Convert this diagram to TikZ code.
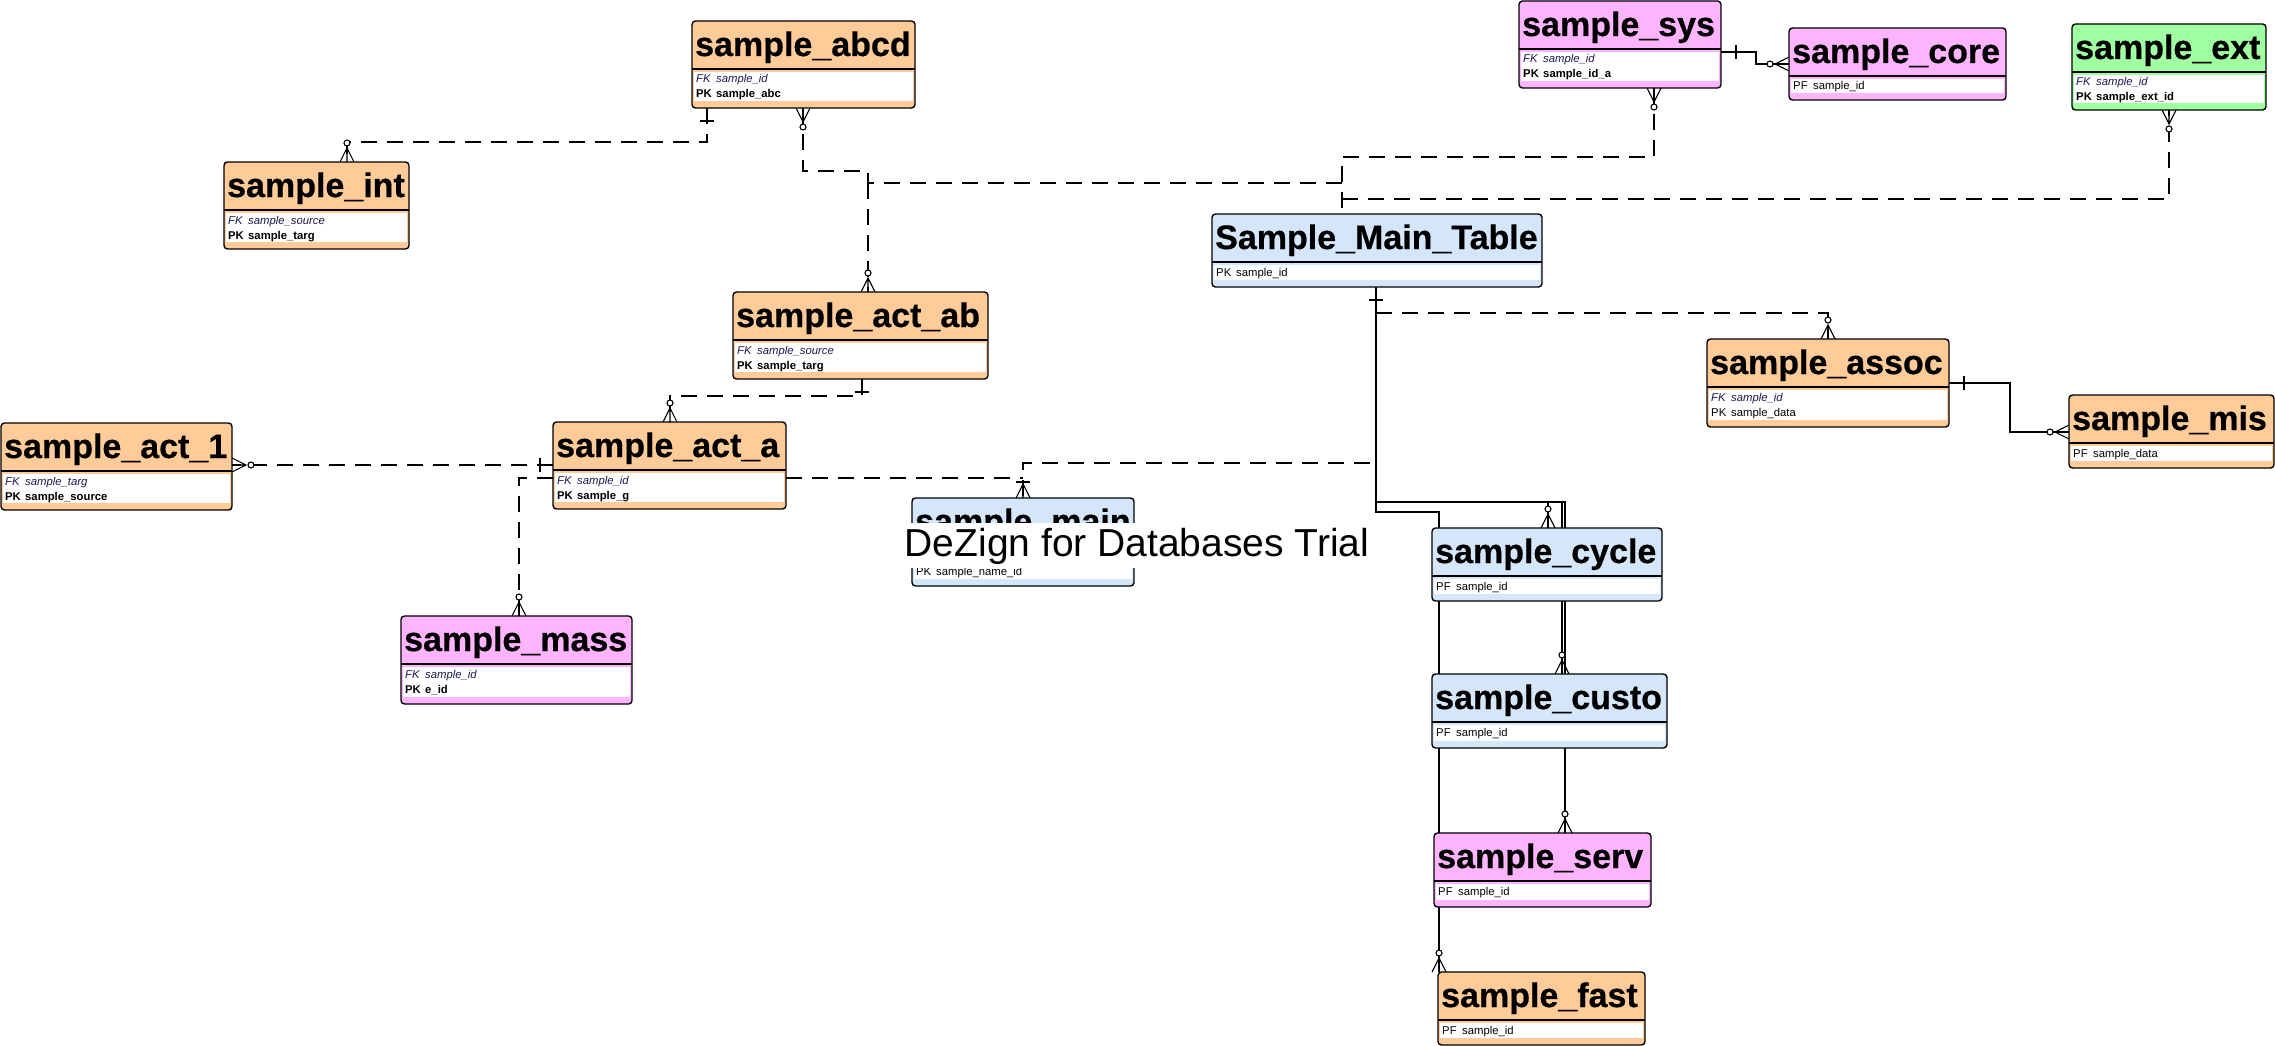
\documentclass[tikz,border=0pt]{standalone}
\usepackage{fontspec}
\setmainfont{Liberation Sans}
\newfontfamily\ttlfont[FakeBold=0.6]{Liberation Sans Bold}
\definecolor{orng}{RGB}{255,204,153}
\definecolor{pnk}{RGB}{255,180,255}
\definecolor{grn}{RGB}{160,255,160}
\definecolor{blu}{RGB}{214,230,250}
\definecolor{fkcol}{RGB}{25,25,80}
\tikzset{
  entbox/.style={draw=black, line width=1.4pt, rounded corners=3.5pt, inner sep=0pt, outer sep=0pt},
  ttl/.style={font=\fontsize{34}{40}\selectfont\ttlfont, inner sep=0pt},
  fkrow/.style={font=\fontsize{11.3}{13}\selectfont\itshape, text=fkcol, inner sep=0pt},
  pkbold/.style={font=\fontsize{11.3}{13}\selectfont\bfseries, inner sep=0pt},
  pkplain/.style={font=\fontsize{11.3}{13}\selectfont, inner sep=0pt},
  conn/.style={line width=1.1pt},
  dconn/.style={line width=1.1pt, dash pattern=on 16pt off 10pt},
  mk/.style={line width=1.1pt},
  zmN/.pic={\draw[mk] (-7,0)--(0,-14)--(7,0) (0,0)--(0,-14); \draw[mk,fill=white] (0,-19) circle (3pt);},
  zmS/.pic={\draw[mk] (-7,0)--(0,14)--(7,0) (0,0)--(0,14); \draw[mk,fill=white] (0,19) circle (3pt);},
  zmE/.pic={\draw[mk] (0,-7)--(14,0)--(0,7) (0,0)--(14,0); \draw[mk,fill=white] (19,0) circle (3pt);},
  zmW/.pic={\draw[mk] (0,-7)--(-14,0)--(0,7) (0,0)--(-14,0); \draw[mk,fill=white] (-19,0) circle (3pt);},
  omN/.pic={\draw[mk] (-7,0)--(0,-14)--(7,0) (0,0)--(0,-14); \draw[mk] (-7,-16)--(7,-16);},
  barS/.pic={\draw[mk] (-7,13)--(7,13);},
  barE/.pic={\draw[mk] (15,-7)--(15,7);},
  barW/.pic={\draw[mk] (-13,-7)--(-13,7);},
}
\newcommand\erent[7]{%
  \node[entbox, fill=#6, minimum width=#4pt, minimum height=#5pt, anchor=north west] (#1) at (#2,#3) {};
  \node[ttl, anchor=base west] (#1-t) at ([shift={(3,35)}]#1.north west) {#7};
  \draw[line width=1.2pt] ([shift={(0,48)}]#1.north west) -- ([shift={(0,48)}]#1.north east);
  \fill[white] ([shift={(2,51)}]#1.north west) rectangle ([shift={(-2,-7)}]#1.south east);
}
\newcommand\errow[5]{%
  \node[#3, anchor=base west] (#1-k#2) at ([shift={(4,#2)}]#1.north west) {#4};
  \node[#3, anchor=base west] (#1-f#2) at ([shift={(24,#2)}]#1.north west) {#5};
}
\begin{document}
\begin{tikzpicture}[x=1pt,y=-1pt]
\fill[white] (0,0) rectangle (2275,1046);
\useasboundingbox (0,0) rectangle (2275,1046);

% entity frames defined first (invisible) so connectors can refer to them
\begin{scope}[every node/.append style={opacity=0}]
\node[entbox, draw=none, minimum width=223pt, minimum height=87pt, anchor=north west] (abcd) at (692,21) {};
\node[entbox, draw=none, minimum width=185pt, minimum height=87pt, anchor=north west] (int) at (224,162) {};
\node[entbox, draw=none, minimum width=255pt, minimum height=87pt, anchor=north west] (actab) at (733,292) {};
\node[entbox, draw=none, minimum width=231pt, minimum height=87pt, anchor=north west] (act1) at (1,423) {};
\node[entbox, draw=none, minimum width=233pt, minimum height=87pt, anchor=north west] (acta) at (553,422) {};
\node[entbox, draw=none, minimum width=231pt, minimum height=88pt, anchor=north west] (mass) at (401,616) {};
\node[entbox, draw=none, minimum width=222pt, minimum height=88pt, anchor=north west] (smain) at (912,498) {};
\node[entbox, draw=none, minimum width=330pt, minimum height=73pt, anchor=north west] (maintab) at (1212,214) {};
\node[entbox, draw=none, minimum width=202pt, minimum height=87pt, anchor=north west] (sys) at (1519,1) {};
\node[entbox, draw=none, minimum width=217pt, minimum height=72pt, anchor=north west] (core) at (1789,28) {};
\node[entbox, draw=none, minimum width=194pt, minimum height=86pt, anchor=north west] (ext) at (2072,24) {};
\node[entbox, draw=none, minimum width=242pt, minimum height=88pt, anchor=north west] (assoc) at (1707,339) {};
\node[entbox, draw=none, minimum width=205pt, minimum height=73pt, anchor=north west] (mis) at (2069,395) {};
\node[entbox, draw=none, minimum width=230pt, minimum height=73pt, anchor=north west] (cycle) at (1432,528) {};
\node[entbox, draw=none, minimum width=235pt, minimum height=74pt, anchor=north west] (custo) at (1432,674) {};
\node[entbox, draw=none, minimum width=217pt, minimum height=74pt, anchor=north west] (serv) at (1434,833) {};
\node[entbox, draw=none, minimum width=207pt, minimum height=73pt, anchor=north west] (fast) at (1438,972) {};
\end{scope}

% ---------- connectors ----------
\coordinate (jm1) at (1342,183);
\coordinate (jm2) at (1342,199);
\coordinate (jab) at (868,183);
\coordinate (jsm) at (1023,478);
\draw[dconn] (707,0 |- abcd.south) |- (347,142) -- (347,0 |- int.north);
\draw[dconn] (1654,0 |- sys.south) |- (1342,157) -- (1342,0 |- maintab.north);
\draw[dconn] (jm1) -- (jab) -- (868,171) -| (803,0 |- abcd.south);
\draw[dconn] (jab) -- (868,0 |- actab.north);
\draw[dconn] (jm2) -| (2169,0 |- ext.south);
\draw[dconn] (862,0 |- actab.south) |- (670,396) -- (670,0 |- acta.north);
\draw[dconn] (0,465 -| acta.west) -- (0,465 -| act1.east);
\draw[dconn] (0,478 -| acta.west) -| (519,0 |- mass.north);
\draw[dconn] (0,478 -| acta.east) -- (jsm);
\draw[dconn] (1376,0 |- maintab.south) |- (1023,463) -- (1023,0 |- smain.north);
\draw[dconn] (1376,0 |- maintab.south) |- (1828,313) -- (1828,0 |- assoc.north);
\draw[conn] (0,383 -| assoc.east) -| (2010,432) -- (0,432 -| mis.west);
\draw[conn] (0,52 -| sys.east) -| (1756,64) -- (0,64 -| core.west);
\draw[conn] (1376,0 |- maintab.south) |- (1548,502) -- (1548,0 |- cycle.north);
\draw[conn] (1376,0 |- maintab.south) |- (1562,502) -- (1562,0 |- custo.north);
\draw[conn] (1376,0 |- maintab.south) |- (1565,502) -- (1565,0 |- serv.north);
\draw[conn] (1376,0 |- maintab.south) |- (1439,512) -- (1439,0 |- fast.north);

% ---------- entities ----------
\erent{abcd}{692}{21}{223}{87}{orng}{sample\_abcd}
\errow{abcd}{62}{fkrow}{FK}{sample\_id}
\errow{abcd}{77}{pkbold}{PK}{sample\_abc}

\erent{int}{224}{162}{185}{87}{orng}{sample\_int}
\errow{int}{62}{fkrow}{FK}{sample\_source}
\errow{int}{77}{pkbold}{PK}{sample\_targ}

\erent{actab}{733}{292}{255}{87}{orng}{sample\_act\_ab}
\errow{actab}{62}{fkrow}{FK}{sample\_source}
\errow{actab}{77}{pkbold}{PK}{sample\_targ}

\erent{act1}{1}{423}{231}{87}{orng}{sample\_act\_1}
\errow{act1}{62}{fkrow}{FK}{sample\_targ}
\errow{act1}{77}{pkbold}{PK}{sample\_source}

\erent{acta}{553}{422}{233}{87}{orng}{sample\_act\_a}
\errow{acta}{62}{fkrow}{FK}{sample\_id}
\errow{acta}{77}{pkbold}{PK}{sample\_g}

\erent{mass}{401}{616}{231}{88}{pnk}{sample\_mass}
\errow{mass}{62}{fkrow}{FK}{sample\_id}
\errow{mass}{77}{pkbold}{PK}{e\_id}

\erent{smain}{912}{498}{222}{88}{blu}{sample\_main}
\errow{smain}{77}{pkplain}{PK}{sample\_name\_id}

\erent{maintab}{1212}{214}{330}{73}{blu}{Sample\_Main\_Table}
\errow{maintab}{62}{pkplain}{PK}{sample\_id}

\erent{sys}{1519}{1}{202}{87}{pnk}{sample\_sys}
\errow{sys}{62}{fkrow}{FK}{sample\_id}
\errow{sys}{77}{pkbold}{PK}{sample\_id\_a}

\erent{core}{1789}{28}{217}{72}{pnk}{sample\_core}
\errow{core}{62}{pkplain}{PF}{sample\_id}

\erent{ext}{2072}{24}{194}{86}{grn}{sample\_ext}
\errow{ext}{62}{fkrow}{FK}{sample\_id}
\errow{ext}{77}{pkbold}{PK}{sample\_ext\_id}

\erent{assoc}{1707}{339}{242}{88}{orng}{sample\_assoc}
\errow{assoc}{62}{fkrow}{FK}{sample\_id}
\errow{assoc}{77}{pkplain}{PK}{sample\_data}

\erent{mis}{2069}{395}{205}{73}{orng}{sample\_mis}
\errow{mis}{62}{pkplain}{PF}{sample\_data}

\erent{cycle}{1432}{528}{230}{73}{blu}{sample\_cycle}
\errow{cycle}{62}{pkplain}{PF}{sample\_id}

\erent{custo}{1432}{674}{235}{74}{blu}{sample\_custo}
\errow{custo}{62}{pkplain}{PF}{sample\_id}

\erent{serv}{1434}{833}{217}{74}{pnk}{sample\_serv}
\errow{serv}{62}{pkplain}{PF}{sample\_id}

\erent{fast}{1438}{972}{207}{73}{orng}{sample\_fast}
\errow{fast}{62}{pkplain}{PF}{sample\_id}

% ---------- relationship ends ----------
\pic at (707,0 |- abcd.south) {barS};
\pic at (347,0 |- int.north) {zmN};
\pic at (803,0 |- abcd.south) {zmS};
\pic at (868,0 |- actab.north) {zmN};
\pic at (1654,0 |- sys.south) {zmS};
\pic at (2169,0 |- ext.south) {zmS};
\pic at (862,0 |- actab.south) {barS};
\pic at (670,0 |- acta.north) {zmN};
\pic at (0,465 -| acta.west) {barW};
\pic at (0,465 -| act1.east) {zmE};
\pic at (519,0 |- mass.north) {zmN};
\pic at (1023,0 |- smain.north) {omN};
\pic at (1376,0 |- maintab.south) {barS};
\pic at (1828,0 |- assoc.north) {zmN};
\pic at (0,383 -| assoc.east) {barE};
\pic at (0,432 -| mis.west) {zmW};
\pic at (0,52 -| sys.east) {barE};
\pic at (0,64 -| core.west) {zmW};
\pic at (1548,0 |- cycle.north) {zmN};
\pic at (1562,0 |- custo.north) {zmN};
\pic at (1565,0 |- serv.north) {zmN};
\pic at (1439,0 |- fast.north) {zmN};

% ---------- watermark ----------
\fill[white] (898,523) rectangle (1376,568);
\node[font=\fontsize{39}{44}\selectfont, inner sep=0pt, anchor=base] (wm) at (1137,556) {DeZign for Databases Trial};
\end{tikzpicture}
\end{document}
